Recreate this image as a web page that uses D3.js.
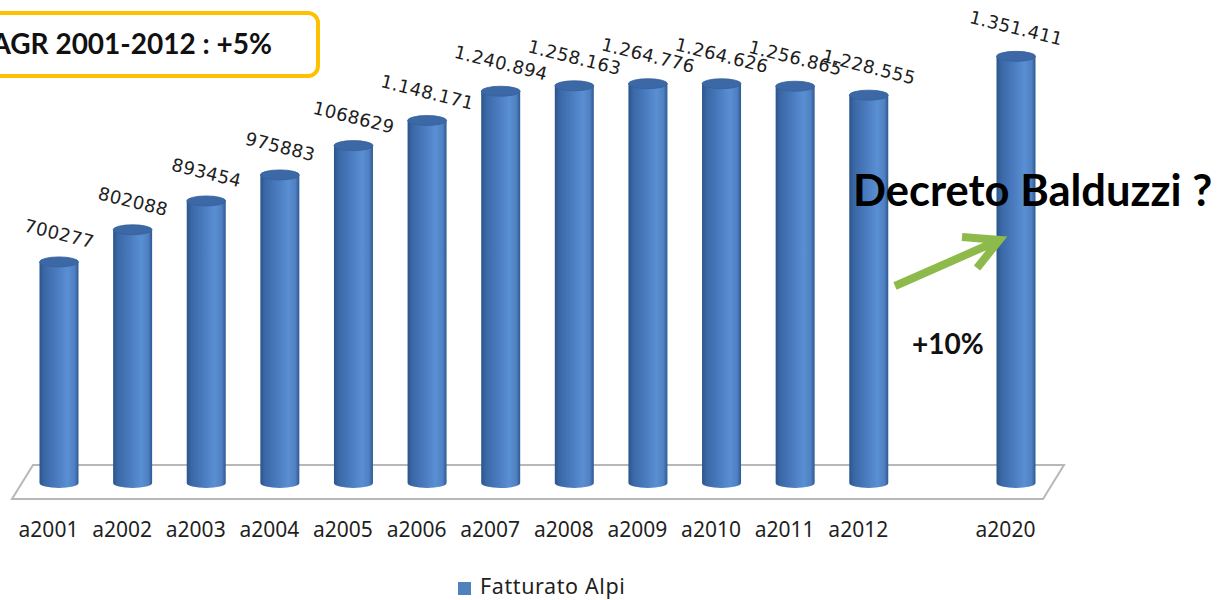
<!DOCTYPE html>
<html>
<head>
<meta charset="utf-8">
<script src="https://cdn.jsdelivr.net/npm/d3@7"></script>
<style>
  html, body { margin: 0; padding: 0; background: #fff; }
  svg { display: block; }
</style>
</head>
<body>
<div id="chart"></div>
<script>
// categories (the empty one is the gap before 2020)
var categories = ["a2001", "a2002", "a2003", "a2004", "a2005", "a2006", "a2007",
                  "a2008", "a2009", "a2010", "a2011", "a2012", "", "a2020"];
var values = [700277, 802088, 893454, 975883, 1068629, 1148171, 1240894,
              1258163, 1264776, 1264626, 1256865, 1228555, null, 1351411];
var valueLabels = ["700277", "802088", "893454", "975883", "1068629", "1.148.171", "1.240.894",
                   "1.258.163", "1.264.776", "1.264.626", "1.256.865", "1.228.555", "", "1.351.411"];
var seriesName = "Fatturato Alpi";

var width = 1218, height = 600;
var barW = 39, ry = 5;

var svg = d3.select("#chart").append("svg")
    .attr("width", width)
    .attr("height", height);

// scales
var x = d3.scalePoint().domain(categories).range([59, 1016]);
var y = d3.scaleLinear().domain([0, 1400000]).range([483, 41]);

var data = categories.map(function (c, i) {
    return { cat: c, value: values[i], label: valueLabels[i] };
}).filter(function (d) { return d.value != null; });

// gradient for the cylinders
var defs = svg.append("defs");
var grad = defs.append("linearGradient").attr("id", "cyl")
    .attr("x1", "0%").attr("x2", "100%").attr("y1", "0%").attr("y2", "0%");
[["0%", "#2b548b"], ["12%", "#3a68a6"], ["45%", "#4b7cc0"], ["72%", "#5a8fd3"],
 ["90%", "#4f80c2"], ["100%", "#2e5991"]].forEach(function (s) {
    grad.append("stop").attr("offset", s[0]).attr("stop-color", s[1]);
});

// floor (3D base plane)
var x0 = x.range()[0], x1 = x.range()[1];
var floorBack = 465, floorFront = 499;
var floorPts = [[x0 - 26, floorBack], [x1 + 48, floorBack], [x1 + 27, floorFront], [x0 - 47, floorFront]];
svg.append("path")
    .attr("d", "M" + floorPts.join("L") + "Z")
    .attr("fill", "#ffffff")
    .attr("stroke", "#b8b8b8")
    .attr("stroke-width", 2);

// bars as cylinders
var bars = svg.append("g").selectAll("g").data(data).join("g")
    .attr("transform", function (d) { return "translate(" + x(d.cat) + ",0)"; });

bars.append("path")
    .attr("fill", "url(#cyl)")
    .attr("d", function (d) {
        var top = y(d.value), bot = y(0), hw = barW / 2;
        return "M" + (-hw) + "," + top + "L" + (-hw) + "," + bot +
            "A" + hw + "," + ry + " 0 0 0 " + hw + "," + bot +
            "L" + hw + "," + top + "Z";
    });

bars.append("ellipse")
    .attr("cx", 0)
    .attr("cy", function (d) { return y(d.value); })
    .attr("rx", barW / 2)
    .attr("ry", ry)
    .attr("fill", "#3c69a6")
    .attr("stroke", "#35609a")
    .attr("stroke-width", 0.8);

// value labels, tilted
bars.append("text")
    .attr("transform", function (d) {
        return "translate(0," + (y(d.value) - 27) + ") rotate(14)";
    })
    .attr("text-anchor", "middle")
    .attr("dominant-baseline", "middle")
    .style("font-family", "DejaVu Sans, sans-serif")
    .style("font-size", "18px")
    .style("letter-spacing", "0.4px")
    .attr("fill", "#1e1e1e")
    .text(function (d) { return d.label; });

// category axis (labels sit a little left of the bars, 3D perspective)
var axis = svg.append("g")
    .attr("transform", "translate(-11,537)")
    .call(d3.axisBottom(x).tickSize(0).tickPadding(0));
axis.select(".domain").remove();
axis.selectAll("text")
    .attr("y", 0).attr("dy", 0)
    .style("font-family", "Noto Sans, sans-serif")
    .style("font-size", "21px")
    .attr("fill", "#1f1f1f");

// legend
var legend = svg.append("g").attr("transform", "translate(458,582)");
legend.append("rect").attr("width", 13).attr("height", 13).attr("fill", "#4f81bd");
legend.append("text")
    .attr("x", 22).attr("y", 12)
    .style("font-family", "Noto Sans, sans-serif")
    .style("font-size", "21.5px")
    .style("letter-spacing", "0.6px")
    .attr("fill", "#1f1f1f")
    .text(seriesName);

// CAGR box
svg.append("rect")
    .attr("x", -20).attr("y", 13)
    .attr("width", 338).attr("height", 63)
    .attr("rx", 10)
    .attr("fill", "#fff")
    .attr("stroke", "#ffc000")
    .attr("stroke-width", 4);
svg.append("text")
    .attr("x", 272).attr("y", 54)
    .attr("text-anchor", "end")
    .style("font-family", "Lato, sans-serif")
    .style("font-weight", "bold")
    .style("font-size", "28px")
    .attr("fill", "#111")
    .text("CAGR 2001-2012 : +5%");

// arrow towards 2020
var tipX = x("a2020") - barW / 2 + 3, tipY = 240;
svg.append("path")
    .attr("d", "M895,286L" + tipX + "," + tipY +
        "M962,237L" + tipX + "," + tipY + "L977,268")
    .attr("fill", "none")
    .attr("stroke", "#8dba4b")
    .attr("stroke-width", 8)
    .attr("stroke-linejoin", "miter");

// annotations
svg.append("text")
    .attr("x", 853).attr("y", 206)
    .style("font-family", "Lato, sans-serif")
    .style("font-weight", "bold")
    .style("font-size", "43.5px")
    .attr("fill", "#000")
    .text("Decreto Balduzzi ?");

svg.append("text")
    .attr("x", 912).attr("y", 354)
    .style("font-family", "Lato, sans-serif")
    .style("font-weight", "bold")
    .style("font-size", "28px")
    .attr("fill", "#111")
    .text("+10%");
</script>
</body>
</html>
